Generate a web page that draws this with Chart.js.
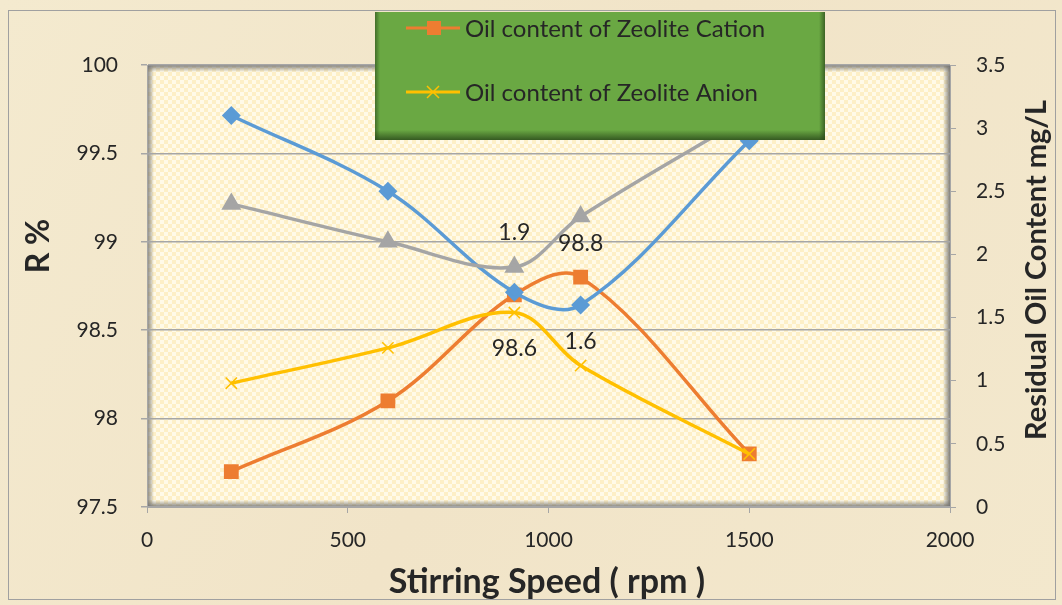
<!DOCTYPE html>
<html lang="en">
<head>
    <meta charset="UTF-8">
    <title>Stirring Speed</title>
    <style>
        body { margin: 0; padding: 0; background: #f2e6cc; }
        #wrap { width: 1062px; height: 605px; }
    </style>
</head>
<body>
    <div id="wrap"><canvas id="chart" width="1062" height="605"></canvas></div>

    <script src="https://cdn.jsdelivr.net/npm/chart.js"></script>
    <script>
        // Values
        const speeds = [210, 600, 915, 1080, 1500];
        const cationR = [97.7, 98.1, 98.7, 98.8, 97.8];
        const anionR = [98.2, 98.4, 98.6, 98.3, 97.8];
        const cationResidual = [3.1, 2.5, 1.7, 1.6, 2.9];
        const anionResidual = [2.4, 2.1, 1.9, 2.3, 3.1];

        const xTicks = [0, 500, 1000, 1500, 2000];
        const leftTicks = [97.5, 98, 98.5, 99, 99.5, 100];
        const rightTicks = [0, 0.5, 1, 1.5, 2, 2.5, 3, 3.5];

        const legendNames = ['Oil content of Zeolite Cation', 'Oil content of Zeolite Anion'];
        const FONT = 'Lato, "Open Sans", sans-serif';
        const TXT = '#262626';

        function pts(ys) {
            return speeds.map((x, i) => ({ x: x, y: ys[i] }));
        }

        // checkerboard fill for the plot area
        function makePattern(ctx) {
            const c = document.createElement('canvas');
            c.width = 8; c.height = 8;
            const p = c.getContext('2d');
            p.fillStyle = '#fffae8';
            p.fillRect(0, 0, 8, 8);
            p.fillStyle = '#fdefc6';
            p.fillRect(0, 0, 4, 4);
            p.fillRect(4, 4, 4, 4);
            return ctx.createPattern(c, 'repeat');
        }

        const backdrop = {
            id: 'backdrop',
            beforeDraw(chart) {
                const ctx = chart.ctx;
                const a = chart.chartArea;
                ctx.save();
                const bg = ctx.createLinearGradient(0, 0, chart.width, chart.height);
                bg.addColorStop(0, '#f4eacf');
                bg.addColorStop(0.5, '#f1e4c8');
                bg.addColorStop(1, '#f3e8cd');
                ctx.fillStyle = bg;
                ctx.fillRect(0, 0, chart.width, chart.height);
                ctx.strokeStyle = '#a0a0a0';
                ctx.lineWidth = 1;
                ctx.strokeRect(8.5, 10.5, chart.width - 15, chart.height - 16);

                ctx.fillStyle = makePattern(ctx);
                ctx.fillRect(a.left, a.top, a.right - a.left, a.bottom - a.top);

                // bevel on the plot frame
                const w = 7;
                let g = ctx.createLinearGradient(a.left, 0, a.left + w, 0);
                g.addColorStop(0, 'rgba(110,110,110,0.85)');
                g.addColorStop(1, 'rgba(110,110,110,0)');
                ctx.fillStyle = g;
                ctx.fillRect(a.left, a.top, w, a.bottom - a.top);
                g = ctx.createLinearGradient(a.right, 0, a.right - w, 0);
                g.addColorStop(0, 'rgba(110,110,110,0.85)');
                g.addColorStop(1, 'rgba(110,110,110,0)');
                ctx.fillStyle = g;
                ctx.fillRect(a.right - w, a.top, w, a.bottom - a.top);
                g = ctx.createLinearGradient(0, a.top, 0, a.top + w);
                g.addColorStop(0, 'rgba(110,110,110,0.85)');
                g.addColorStop(1, 'rgba(110,110,110,0)');
                ctx.fillStyle = g;
                ctx.fillRect(a.left, a.top, a.right - a.left, w);
                g = ctx.createLinearGradient(0, a.bottom, 0, a.bottom - w);
                g.addColorStop(0, 'rgba(110,110,110,0.85)');
                g.addColorStop(1, 'rgba(110,110,110,0)');
                ctx.fillStyle = g;
                ctx.fillRect(a.left, a.bottom - w, a.right - a.left, w);
                ctx.restore();
            }
        };

        // value labels next to a few points
        const labelSpots = [
            { ds: 3, i: 2, dy: -34 },
            { ds: 0, i: 3, dy: -34 },
            { ds: 1, i: 2, dy: 36 },
            { ds: 2, i: 3, dy: 37 }
        ];

        const decorations = {
            id: 'decorations',
            afterDatasetsDraw(chart) {
                const ctx = chart.ctx;
                ctx.save();
                ctx.fillStyle = TXT;
                ctx.font = '23px ' + FONT;
                ctx.textAlign = 'center';
                ctx.textBaseline = 'middle';
                labelSpots.forEach(s => {
                    const el = chart.getDatasetMeta(s.ds).data[s.i];
                    const v = chart.data.datasets[s.ds].data[s.i].y;
                    ctx.fillText(String(v), el.x, el.y + s.dy);
                });
                ctx.restore();
            },
            afterDraw(chart) {
                const ctx = chart.ctx;
                const a = chart.chartArea;
                ctx.save();

                // axis titles
                ctx.fillStyle = TXT;
                ctx.textAlign = 'center';
                ctx.textBaseline = 'middle';
                ctx.font = 'bold 34px ' + FONT;
                ctx.fillText('Stirring Speed ( rpm )', 547, 582);

                ctx.save();
                ctx.translate(39, 246);
                ctx.rotate(-Math.PI / 2);
                ctx.font = 'bold 32px ' + FONT;
                ctx.fillText('R %', 0, 0);
                ctx.restore();

                ctx.save();
                ctx.translate(1037, 270);
                ctx.rotate(-Math.PI / 2);
                ctx.font = 'bold 29px ' + FONT;
                ctx.fillText('Residual Oil Content mg/L', 0, 0);
                ctx.restore();

                // legend box
                const bx = 375, by = 12, bw = 450, bh = 128;
                ctx.fillStyle = '#6aa843';
                ctx.fillRect(bx, by, bw, bh);
                let g = ctx.createLinearGradient(0, by + bh - 10, 0, by + bh);
                g.addColorStop(0, 'rgba(40,70,25,0)');
                g.addColorStop(1, 'rgba(40,70,25,0.8)');
                ctx.fillStyle = g;
                ctx.fillRect(bx, by + bh - 10, bw, 10);
                g = ctx.createLinearGradient(bx + bw - 6, 0, bx + bw, 0);
                g.addColorStop(0, 'rgba(40,70,25,0)');
                g.addColorStop(1, 'rgba(40,70,25,0.7)');
                ctx.fillStyle = g;
                ctx.fillRect(bx + bw - 6, by, 6, bh);
                g = ctx.createLinearGradient(bx, 0, bx + 5, 0);
                g.addColorStop(0, 'rgba(40,70,25,0.6)');
                g.addColorStop(1, 'rgba(40,70,25,0)');
                ctx.fillStyle = g;
                ctx.fillRect(bx, by, 5, bh);

                const rows = [28, 92];
                legendNames.forEach((name, k) => {
                    const ds = chart.data.datasets[k];
                    const y = rows[k];
                    ctx.strokeStyle = ds.borderColor;
                    ctx.lineWidth = 3;
                    ctx.beginPath();
                    ctx.moveTo(406, y);
                    ctx.lineTo(460, y);
                    ctx.stroke();
                    if (k === 0) {
                        ctx.fillStyle = ds.pointBackgroundColor;
                        ctx.fillRect(427, y - 7, 14, 14);
                    } else {
                        ctx.lineWidth = 1.5;
                        ctx.beginPath();
                        ctx.moveTo(427, y - 6); ctx.lineTo(439, y + 6);
                        ctx.moveTo(439, y - 6); ctx.lineTo(427, y + 6);
                        ctx.stroke();
                    }
                    ctx.fillStyle = TXT;
                    ctx.textAlign = 'left';
                    ctx.textBaseline = 'middle';
                    ctx.font = '24px ' + FONT;
                    ctx.fillText(name, 465, y + 1);
                });
                ctx.restore();
            }
        };

        const gridColor = '#a6a6a6';
        const tickFont = { family: FONT, size: 21 };

        new Chart(document.getElementById('chart'), {
            type: 'line',
            data: {
                datasets: [
                    {
                        label: legendNames[0],
                        data: pts(cationR),
                        yAxisID: 'y',
                        borderColor: '#ed7d31',
                        pointBackgroundColor: '#ed7d31',
                        pointBorderColor: '#ed7d31',
                        pointStyle: 'rect',
                        pointRadius: 8,
                        borderWidth: 3.5,
                        tension: 0.35,
                        order: 4
                    },
                    {
                        label: legendNames[1],
                        data: pts(anionR),
                        yAxisID: 'y',
                        borderColor: '#ffc000',
                        pointBackgroundColor: '#ffc000',
                        pointBorderColor: '#ffc000',
                        pointStyle: 'crossRot',
                        pointRadius: 8,
                        pointBorderWidth: 1.5,
                        borderWidth: 3.5,
                        tension: 0.35,
                        order: 3
                    },
                    {
                        label: 'Residual oil, Zeolite Cation',
                        data: pts(cationResidual),
                        yAxisID: 'y1',
                        borderColor: '#5b9bd5',
                        pointBackgroundColor: '#5b9bd5',
                        pointBorderColor: '#5b9bd5',
                        pointStyle: 'rectRot',
                        pointRadius: 7,
                        borderWidth: 3.5,
                        tension: 0.35,
                        order: 2
                    },
                    {
                        label: 'Residual oil, Zeolite Anion',
                        data: pts(anionResidual),
                        yAxisID: 'y1',
                        borderColor: '#a5a5a5',
                        pointBackgroundColor: '#a5a5a5',
                        pointBorderColor: '#a5a5a5',
                        pointStyle: 'triangle',
                        pointRadius: 8,
                        borderWidth: 3.5,
                        tension: 0.35,
                        order: 1
                    }
                ]
            },
            options: {
                responsive: false,
                animation: false,
                layout: { padding: { top: 65, left: 0, right: 0, bottom: 0 } },
                plugins: {
                    legend: { display: false },
                    tooltip: { enabled: false }
                },
                scales: {
                    x: {
                        type: 'linear',
                        min: 0,
                        max: 2000,
                        afterFit: s => { s.height = 98; },
                        afterBuildTicks: s => { s.ticks = xTicks.map(v => ({ value: v })); },
                        ticks: { color: TXT, font: tickFont, padding: 15, maxRotation: 0, callback: v => String(v) },
                        grid: { drawOnChartArea: false, color: gridColor, tickLength: 6 },
                        border: { color: gridColor }
                    },
                    y: {
                        position: 'left',
                        min: 97.5,
                        max: 100,
                        afterFit: s => { s.width = 147; },
                        afterBuildTicks: s => { s.ticks = leftTicks.map(v => ({ value: v })); },
                        ticks: { color: TXT, font: tickFont, padding: 23, callback: v => String(v) },
                        grid: { color: gridColor, lineWidth: 1.5, tickLength: 6 },
                        border: { color: gridColor }
                    },
                    y1: {
                        position: 'right',
                        min: 0,
                        max: 3.5,
                        afterFit: s => { s.width = 112; },
                        afterBuildTicks: s => { s.ticks = rightTicks.map(v => ({ value: v })); },
                        ticks: { color: TXT, font: tickFont, padding: 20, callback: v => String(v) },
                        grid: { drawOnChartArea: false, color: gridColor, tickLength: 6 },
                        border: { color: gridColor }
                    }
                }
            },
            plugins: [backdrop, decorations]
        });
    </script>
</body>
</html>
